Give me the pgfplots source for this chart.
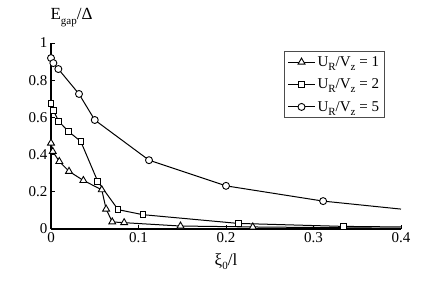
\documentclass[border=0pt]{standalone}
\usepackage{pgfplots}
\pgfplotsset{compat=1.18}
\usepackage{fontspec}
\setmainfont{Liberation Serif}
\newcommand{\sub}[1]{\raisebox{-0.6ex}{\fontsize{11}{11}\selectfont #1}}
\begin{document}
\begin{tikzpicture}
\begin{axis}[
  at={(0pt,0pt)}, anchor=south west,
  scale only axis, width=350pt, height=186pt,
  xmin=0, xmax=0.4, ymin=0, ymax=1,
  axis lines=left,
  axis line style={-, line width=1.6pt},
  xtick={0,0.1,0.2,0.3,0.4},
  ytick={0,0.2,0.4,0.6,0.8,1},
  xticklabels={0,0.1,0.2,0.3,0.4},
  yticklabels={0,0.2,0.4,0.6,0.8,1},
  tick align=inside, major tick length=4pt,
  tick style={black, line width=0.8pt},
  /pgf/number format/assume math mode=true,
  ticklabel style={font=\fontsize{15}{18}\selectfont},
  every axis y label/.style={at={(rel axis cs:0,1)}, anchor=base west, yshift=23pt, xshift=-4pt, font=\fontsize{17}{20}\selectfont},
  every axis x label/.style={at={(rel axis cs:0.5,0)}, anchor=base, yshift=-36pt, font=\fontsize{17}{20}\selectfont},
  ylabel={E\sub{gap}/Δ},
  xlabel={ξ\sub{0}/l},
  legend style={at={(rel axis cs:0.666,0.957)}, anchor=north west, draw=black!70, line width=0.8pt,
    font=\fontsize{15}{17}\selectfont, row sep=7pt, inner sep=3pt},
  legend cell align=left,
  every axis plot/.append style={black, line width=1pt},
  legend image code/.code={\draw (0cm,0cm) -- (0.95cm,0cm); \draw plot coordinates {(0.475cm,0cm)};},
]
\addplot[mark=triangle*, mark options={fill=white, solid, line width=0.9pt}, mark size=4pt, mark indices={1,...,11}] coordinates {
(0,0.462) (0.002,0.417) (0.0095,0.363) (0.0206,0.31) (0.037,0.261) (0.058,0.211)
(0.063,0.107) (0.070,0.038) (0.0836,0.034) (0.148,0.016) (0.2306,0.011) (0.4,0.004)};
\addlegendentry{U\sub{R}/V\sub{z} = 1}
\addplot[mark=square*, mark options={fill=white, solid, line width=0.9pt}, mark size=2.8pt, mark indices={1,...,10}] coordinates {
(0,0.674) (0.0027,0.638) (0.0088,0.579) (0.0198,0.525) (0.034,0.471) (0.0534,0.256)
(0.0767,0.104) (0.105,0.077) (0.214,0.030) (0.334,0.014) (0.4,0.011)};
\addlegendentry{U\sub{R}/V\sub{z} = 2}
\addplot[mark=*, mark options={fill=white, solid, line width=0.9pt}, mark size=3.5pt, mark indices={1,...,8}] coordinates {
(0,0.919) (0.0027,0.892) (0.0084,0.860) (0.032,0.726) (0.05,0.586) (0.112,0.370)
(0.2,0.232) (0.311,0.150) (0.4,0.107)};
\addlegendentry{U\sub{R}/V\sub{z} = 5}
\end{axis}
\pgfresetboundingbox
\path[use as bounding box] (-51pt,-57pt) rectangle (392pt,229pt);
\end{tikzpicture}
\end{document}
